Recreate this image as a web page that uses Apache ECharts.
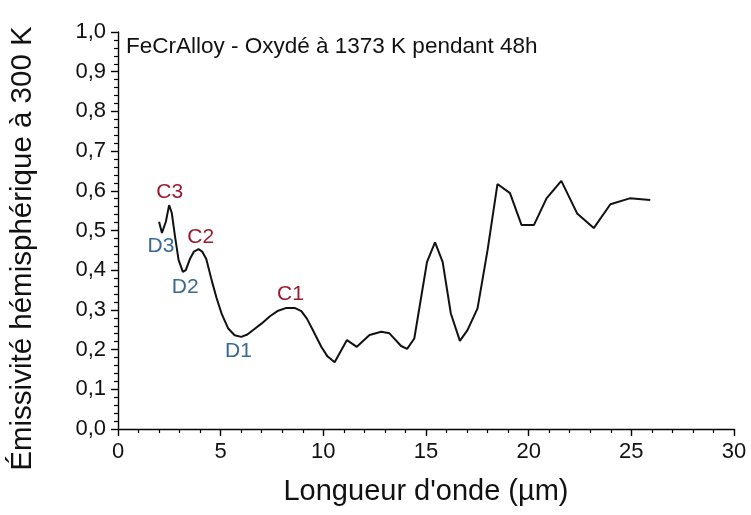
<!DOCTYPE html>
<html>
<head>
<meta charset="utf-8">
<script src="https://cdn.jsdelivr.net/npm/echarts@6/dist/echarts.min.js"></script>
<style>html,body{margin:0;padding:0;background:#fff;}#c{width:751px;height:515px;}</style>
</head>
<body>
<div id="c"></div>
<script>
// Data
const wavelength = [2.00, 2.14, 2.33, 2.49, 2.62, 2.78, 2.95, 3.16, 3.30, 3.50, 3.70, 3.92, 4.10, 4.30, 4.56, 4.80, 5.05, 5.37, 5.68, 6.00, 6.30, 6.60, 7.00, 7.40, 7.80, 8.20, 8.60, 8.93, 9.20, 9.50, 9.90, 10.20, 10.55, 11.15, 11.63, 12.25, 12.82, 13.22, 13.79, 14.08, 14.43, 15.05, 15.44, 15.81, 16.21, 16.65, 17.02, 17.51, 18.00, 18.48, 19.09, 19.65, 20.26, 20.87, 21.59, 22.36, 23.17, 23.98, 24.92, 25.92];
const emissivity = [0.522, 0.494, 0.522, 0.564, 0.544, 0.484, 0.426, 0.396, 0.400, 0.428, 0.447, 0.453, 0.447, 0.428, 0.375, 0.330, 0.290, 0.253, 0.236, 0.232, 0.238, 0.250, 0.266, 0.284, 0.298, 0.305, 0.305, 0.297, 0.278, 0.248, 0.207, 0.183, 0.168, 0.224, 0.207, 0.237, 0.245, 0.241, 0.209, 0.202, 0.228, 0.421, 0.470, 0.421, 0.291, 0.222, 0.249, 0.304, 0.451, 0.617, 0.594, 0.514, 0.514, 0.581, 0.625, 0.543, 0.506, 0.566, 0.581, 0.577];

const annoNames = ['C3', 'D3', 'C2', 'D2', 'C1', 'D1'];
const annoX = [2.52, 2.09, 4.03, 3.27, 8.40, 5.87];
const annoY = [0.597, 0.461, 0.484, 0.358, 0.339, 0.196];
const annoKinds = ['C', 'D', 'C', 'D', 'C', 'D'];

const xTicks = [0, 5, 10, 15, 20, 25, 30];
const yTicks = [0, 0.1, 0.2, 0.3, 0.4, 0.5, 0.6, 0.7, 0.8, 0.9, 1.0];

const titleText = 'FeCrAlloy - Oxydé à 1373 K pendant 48h';
const xName = "Longueur d'onde (µm)";
const yName = 'Émissivité hémisphérique à 300 K';

const kindColor = { C: '#9a1a30', D: '#3a6a93' };
const font = 'Liberation Sans, Arial, sans-serif';

const chart = echarts.init(document.getElementById('c'), null, { renderer: 'canvas' });
chart.setOption({
  backgroundColor: '#ffffff',
  animation: false,
  title: {
    text: titleText,
    left: 121, top: 30,
    textStyle: { fontFamily: font, fontSize: 22.5, fontWeight: 'normal', color: '#111' }
  },
  grid: { left: 116, right: 17, top: 32, bottom: 86 },
  xAxis: {
    type: 'value',
    min: xTicks[0], max: xTicks[xTicks.length - 1], interval: 5,
    name: xName, nameLocation: 'middle', nameGap: 48,
    nameTextStyle: { fontFamily: font, fontSize: 29, color: '#111' },
    axisLine: { show: true, lineStyle: { color: '#000', width: 1.4 } },
    axisTick: { show: true, inside: false, length: 7, lineStyle: { color: '#000', width: 1.4 } },
    minorTick: { show: true, splitNumber: 5, length: 4, lineStyle: { color: '#000', width: 1.2 } },
    axisLabel: { fontFamily: font, fontSize: 22, color: '#111', margin: 12 },
    splitLine: { show: false }
  },
  yAxis: {
    type: 'value',
    min: yTicks[0], max: yTicks[yTicks.length - 1], interval: 0.1,
    name: yName, nameLocation: 'middle', nameGap: 80, nameRotate: 90,
    nameTextStyle: { fontFamily: font, fontSize: 29.5, color: '#111', padding: [0, 36, 0, 0] },
    axisLine: { show: true, lineStyle: { color: '#000', width: 1.4 } },
    axisTick: { show: true, inside: false, length: 7, lineStyle: { color: '#000', width: 1.4 } },
    minorTick: { show: true, splitNumber: 5, length: 4, lineStyle: { color: '#000', width: 1.2 } },
    axisLabel: {
      fontFamily: font, fontSize: 22, color: '#111', margin: 12,
      formatter: v => v.toFixed(1).replace('.', ',')
    },
    splitLine: { show: false }
  },
  series: [
    {
      type: 'line',
      data: wavelength.map((x, i) => [x, emissivity[i]]),
      showSymbol: false, symbol: 'none',
      lineStyle: { color: '#111', width: 2 },
      smooth: false
    },
    {
      type: 'scatter',
      symbolSize: 0,
      itemStyle: { opacity: 1 },
      data: annoNames.map((n, i) => ({
        value: [annoX[i], annoY[i]],
        label: { formatter: n, color: kindColor[annoKinds[i]] }
      })),
      label: { show: true, position: 'inside', fontFamily: font, fontSize: 21 },
      silent: true
    }
  ]
});
</script>
</body>
</html>
